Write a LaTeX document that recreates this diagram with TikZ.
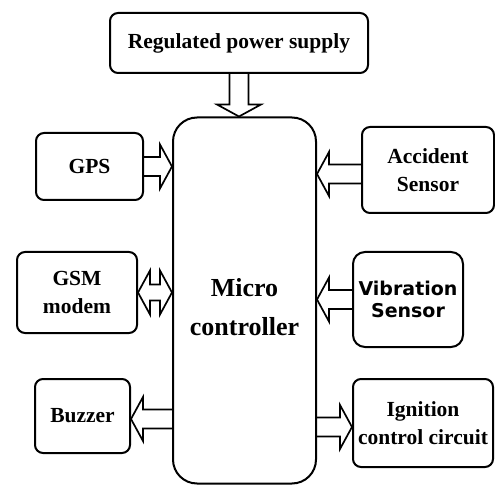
\documentclass[tikz,border=0pt]{standalone}
\usepackage{fontspec}
\setmainfont{Liberation Serif}
\newfontfamily\vibfont{DejaVu Sans}
\usepackage{tikz}
\usetikzlibrary{calc}

\tikzset{
    block/.style={draw, line width=2pt, rounded corners=8pt, align=center, inner sep=1pt,
        font=\fontsize{21.5}{28.5}\selectfont\bfseries},
    % hollow block arrow, open at the tail
    fat/.style={draw, line width=1.7pt, to path={
        ($(\tikztostart)!9.5pt!90:(\tikztotarget)$)
        -- ($($(\tikztotarget)!12pt!(\tikztostart)$)!9.5pt!90:(\tikztotarget)$)
        -- ($($(\tikztotarget)!12pt!(\tikztostart)$)!22pt!90:(\tikztotarget)$)
        -- (\tikztotarget)
        -- ($($(\tikztotarget)!12pt!(\tikztostart)$)!22pt!-90:(\tikztotarget)$)
        -- ($($(\tikztotarget)!12pt!(\tikztostart)$)!9.5pt!-90:(\tikztotarget)$)
        -- ($(\tikztostart)!9.5pt!-90:(\tikztotarget)$)}},
    % same with a head at both ends
    twofat/.style={draw, line width=1.7pt, to path={
        ($($(\tikztostart)!12pt!(\tikztotarget)$)!8pt!90:(\tikztotarget)$)
        -- ($($(\tikztotarget)!12pt!(\tikztostart)$)!8pt!90:(\tikztotarget)$)
        -- ($($(\tikztotarget)!12pt!(\tikztostart)$)!22pt!90:(\tikztotarget)$)
        -- (\tikztotarget)
        -- ($($(\tikztotarget)!12pt!(\tikztostart)$)!22pt!-90:(\tikztotarget)$)
        -- ($($(\tikztotarget)!12pt!(\tikztostart)$)!8pt!-90:(\tikztotarget)$)
        -- ($($(\tikztostart)!12pt!(\tikztotarget)$)!8pt!-90:(\tikztotarget)$)
        -- ($($(\tikztostart)!12pt!(\tikztotarget)$)!22pt!-90:(\tikztotarget)$)
        -- (\tikztostart)
        -- ($($(\tikztostart)!12pt!(\tikztotarget)$)!22pt!90:(\tikztotarget)$)
        -- cycle}}
}

\begin{document}
\begin{tikzpicture}[x=1pt, y=-1pt]
    \useasboundingbox (0,0) rectangle (495,486);

    % Nodes
    \node at (239,43) (supply) [block, minimum width=258pt, minimum height=60pt] {Regulated power supply};
    \node at (244.5,300.5) (mcu) [block, rounded corners=24pt, minimum width=143pt, minimum height=366pt] {};
    \node at (244.5,307) (mcutext) [font=\fontsize{26}{39}\selectfont\bfseries, align=center] {Micro\\controller};
    \node at (89.5,166.5) (gps) [block, minimum width=107pt, minimum height=67pt] {GPS};
    \node at (77,292.5) (gsm) [block, minimum width=120pt, minimum height=81pt] {GSM\\modem};
    \node at (82.5,416) (buzzer) [block, minimum width=95pt, minimum height=74pt] {Buzzer};
    \node at (428,170) (accident) [block, minimum width=132pt, minimum height=86pt] {Accident\\Sensor};
    \node at (408,299.5) (vibration) [block, rounded corners=12pt, minimum width=110pt, minimum height=95pt,
        font=\fontsize{19}{22}\selectfont\vibfont\bfseries] {Vibration\\Sensor};
    \node at (423,423) (ignition) [block, minimum width=140pt, minimum height=88pt] {Ignition\\control circuit};

    % Arrows
    \draw[fat] (supply.south) to (supply.south |- mcu.north);
    \draw[fat] (gps.east) to (gps.east -| mcu.west);
    \draw[twofat] (gsm.east) to (gsm.east -| mcu.west);
    \draw[fat] ([yshift=-3pt]buzzer.east -| mcu.west) to ([yshift=-3pt]buzzer.east);
    \draw[fat] ([yshift=-4pt]accident.west) to ([yshift=-4pt]accident.west -| mcu.east);
    \draw[fat] (vibration.west) to (vibration.west -| mcu.east);
    \draw[fat] ([yshift=-4pt]ignition.west -| mcu.east) to ([yshift=-4pt]ignition.west);

\end{tikzpicture}
\end{document}
